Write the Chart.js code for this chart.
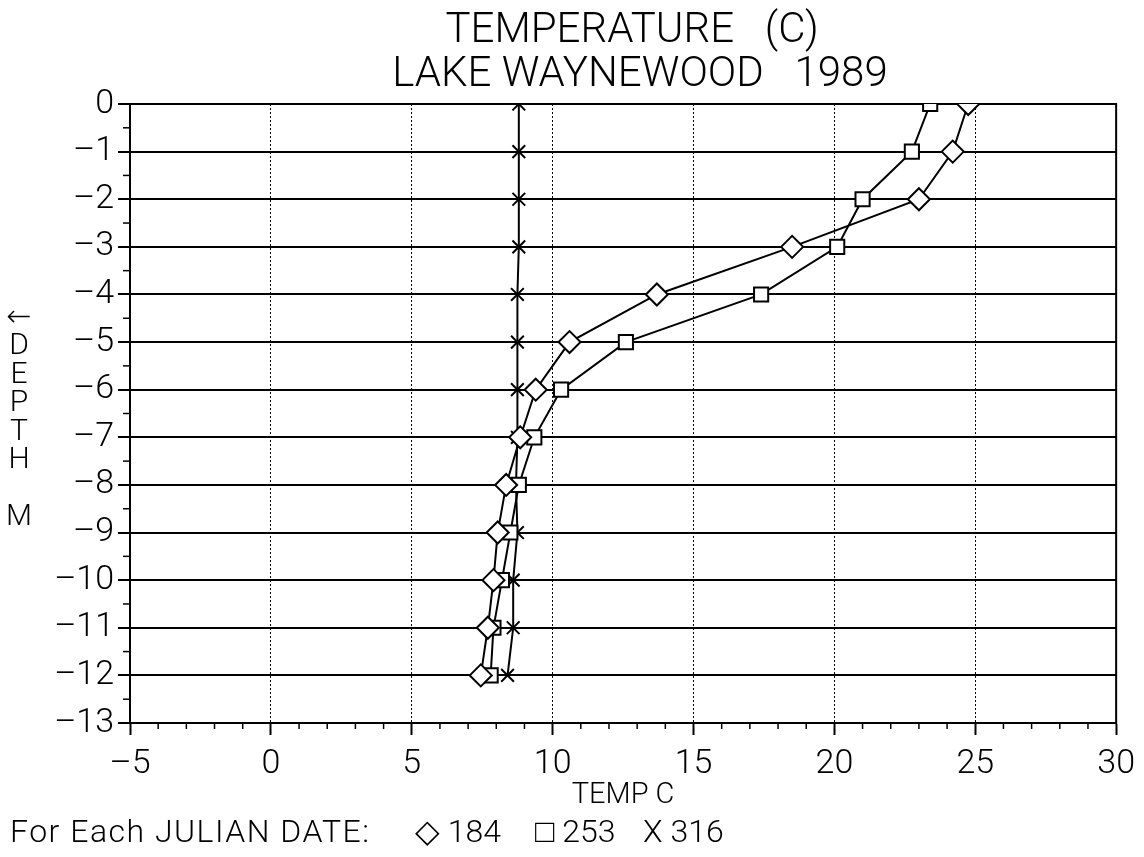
<!DOCTYPE html>
<html>
<head>
<meta charset="utf-8">
<title>Temperature (C) - Lake Waynewood 1989</title>
<script src="https://cdn.jsdelivr.net/npm/chart.js@4.4.1/dist/chart.umd.min.js"></script>
<style>
    html, body { margin: 0; padding: 0; background: #fff; }
    #graph { display: block; }
</style>
</head>
<body>
<canvas id="graph" width="1144" height="857"></canvas>
<script>
// DADOS
const depths = [0, -1, -2, -3, -4, -5, -6, -7, -8, -9, -10, -11, -12];
const temp184 = [24.75, 24.2, 23.0, 18.5, 13.7, 10.6, 9.4, 8.85, 8.35, 8.05, 7.9, 7.7, 7.45];
const temp253 = [23.4, 22.75, 21.0, 20.1, 17.4, 12.6, 10.3, 9.35, 8.8, 8.5, 8.2, 7.9, 7.8];
const temp316 = [8.8, 8.8, 8.8, 8.8, 8.75, 8.75, 8.75, 8.75, 8.7, 8.75, 8.6, 8.6, 8.4];
const julianDates = ["184", "253", "316"];
const legendSymbols = ["\u25C7", "\u25A1", "X"];
const titleLines = ["TEMPERATURE   (C)", "LAKE WAYNEWOOD   1989"];
const yTitleLetters = ["\u2190", "D", "E", "P", "T", "H", "", "M"];

const FONT = "Roboto, 'DejaVu Sans', sans-serif";
Chart.defaults.color = "#000";
Chart.defaults.font.family = FONT;
Chart.defaults.font.weight = 300;

const minus = (v) => (v < 0 ? "\u2013" + Math.abs(v) : String(v));
const toPoints = (temps) => temps.map((t, i) => ({ x: t, y: depths[i] }));

// TEXTOS E MARCAS MENORES
const extras = {
    id: "extras",
    beforeDatasetsDraw(chart) {
        const { ctx, chartArea: a, scales } = chart;
        ctx.save();
        ctx.strokeStyle = "#000";
        ctx.lineWidth = 2;
        ctx.strokeRect(a.left, a.top, a.right - a.left, a.bottom - a.top);
        ctx.lineWidth = 1.5;
        for (let v = -5; v <= 30; v++) {
            if (v % 5 === 0) continue;
            const px = scales.x.getPixelForValue(v);
            ctx.beginPath();
            ctx.moveTo(px, a.bottom);
            ctx.lineTo(px, a.bottom + 6);
            ctx.stroke();
        }
        for (let v = -12.5; v < 0; v += 1) {
            const py = scales.y.getPixelForValue(v);
            ctx.beginPath();
            ctx.moveTo(a.left - 7, py);
            ctx.lineTo(a.left, py);
            ctx.stroke();
        }
        ctx.restore();
    },
    afterDraw(chart) {
        const { ctx } = chart;
        ctx.save();
        ctx.fillStyle = "#000";
        ctx.textBaseline = "middle";

        ctx.textAlign = "center";
        ctx.font = "300 42px " + FONT;
        ctx.fillText(titleLines[0], 632, 31);
        ctx.fillText(titleLines[1], 640, 75);

        ctx.font = "300 30px " + FONT;
        yTitleLetters.forEach((ch, i) => {
            ctx.fillText(ch, 19, 318 + i * 28.5);
        });

        ctx.textAlign = "left";
        ctx.font = "300 32px " + FONT;
        ctx.letterSpacing = "1.5px";
        ctx.fillText("For Each JULIAN DATE:", 10, 834);
        ctx.letterSpacing = "0px";
        const xs = [415, 535, 643];
        julianDates.forEach((d, i) => {
            ctx.fillText(legendSymbols[i] + " " + d, xs[i], 834);
        });
        ctx.restore();
    },
};

// CONSTRUIR GRÁFICO
const ctx = document.getElementById("graph");
const baseSet = {
    showLine: true,
    borderColor: "#000",
    borderWidth: 2,
    pointBackgroundColor: "#fff",
    pointBorderColor: "#000",
    pointBorderWidth: 2,
    tension: 0,
};
new Chart(ctx, {
    type: "scatter",
    data: {
        datasets: [
            { ...baseSet, label: "184", data: toPoints(temp184), pointStyle: "rectRot", pointRadius: 11, pointHoverRadius: 11 },
            { ...baseSet, label: "253", data: toPoints(temp253), pointStyle: "rect", pointRadius: 10, pointHoverRadius: 10 },
            { ...baseSet, label: "316", data: toPoints(temp316), pointStyle: "crossRot", pointRadius: 9, pointHoverRadius: 9 },
        ],
    },
    options: {
        responsive: false,
        animation: false,
        devicePixelRatio: 1,
        layout: {
            padding: { left: 0, right: 26, top: 104, bottom: 44 },
        },
        scales: {
            x: {
                type: "linear",
                min: -5,
                max: 30,
                afterFit: (scale) => { scale.height = 90; },
                grid: {
                    color: "#000",
                    lineWidth: 1,
                    tickColor: "#000",
                    tickWidth: 2,
                    tickLength: 12,
                },
                border: { display: true, color: "#000", width: 2, dash: [2, 2] },
                ticks: {
                    stepSize: 5,
                    padding: 9,
                    maxRotation: 0,
                    font: { size: 34 },
                    callback: (v) => minus(v),
                },
                title: {
                    display: true,
                    text: "TEMP C",
                    font: { size: 29 },
                    padding: { top: 0, bottom: 0 },
                },
            },
            y: {
                type: "linear",
                min: -13,
                max: 0,
                afterFit: (scale) => { scale.width = 130; },
                grid: {
                    color: "#000",
                    lineWidth: 2,
                    tickColor: "#000",
                    tickWidth: 2,
                    tickLength: 12,
                },
                border: { display: true, color: "#000", width: 2 },
                ticks: {
                    stepSize: 1,
                    padding: 4,
                    font: { size: 34 },
                    callback: (v) => minus(v),
                },
            },
        },
        plugins: {
            legend: { display: false },
            title: { display: false },
            tooltip: { enabled: false },
        },
    },
    plugins: [extras],
});
</script>
</body>
</html>
